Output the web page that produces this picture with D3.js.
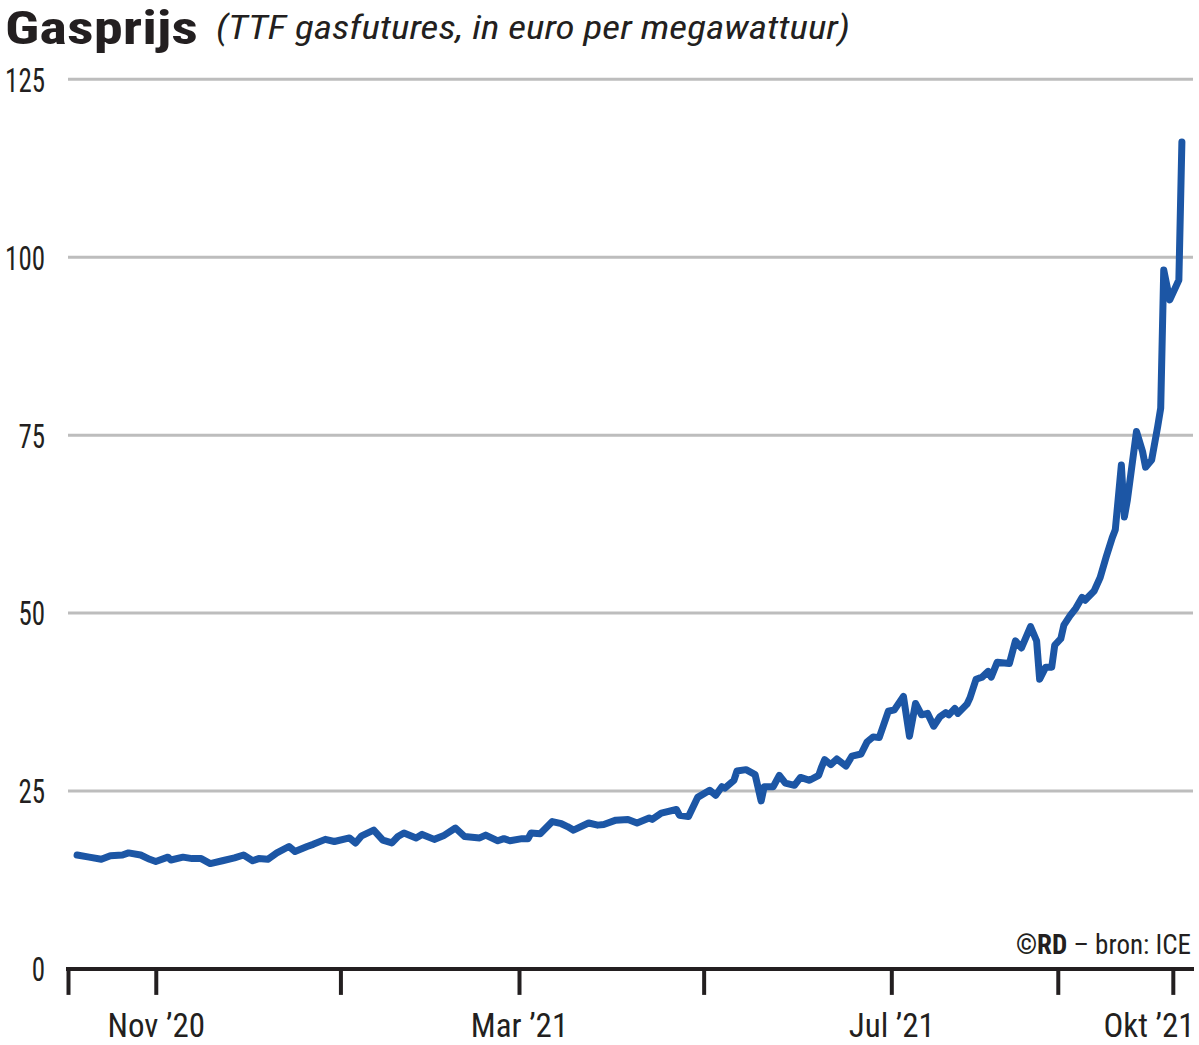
<!DOCTYPE html>
<html>
<head>
<meta charset="utf-8">
<script src="https://cdn.jsdelivr.net/npm/d3@7"></script>
<style>
  html, body { margin: 0; padding: 0; background: #fff; }
  svg { display: block; }
  .cond { font-family: "Liberation Sans Narrow", "Roboto Condensed", "DejaVu Sans Condensed", "Liberation Sans", sans-serif; }
</style>
</head>
<body>
<svg id="chart" width="1199" height="1045"></svg>
<script>
// ---- data ----
const dates = [
  "2020-10-04","2020-10-08","2020-10-12","2020-10-15","2020-10-19","2020-10-21","2020-10-25","2020-10-28","2020-10-30",
  "2020-11-03","2020-11-04","2020-11-08","2020-11-11","2020-11-14","2020-11-17","2020-11-21","2020-11-25","2020-11-28",
  "2020-12-01","2020-12-03","2020-12-06","2020-12-09","2020-12-13","2020-12-15","2020-12-19","2020-12-21","2020-12-25","2020-12-28",
  "2021-01-02","2021-01-04","2021-01-06","2021-01-10","2021-01-13","2021-01-16","2021-01-18","2021-01-20","2021-01-24","2021-01-26","2021-01-30",
  "2021-02-02","2021-02-06","2021-02-09","2021-02-14","2021-02-16","2021-02-20","2021-02-22","2021-02-24","2021-02-28",
  "2021-03-02","2021-03-03","2021-03-06","2021-03-10","2021-03-13","2021-03-15","2021-03-17","2021-03-22","2021-03-25","2021-03-27","2021-03-31",
  "2021-04-04","2021-04-07","2021-04-11","2021-04-12","2021-04-15","2021-04-20","2021-04-21","2021-04-24","2021-04-27",
  "2021-05-01","2021-05-03","2021-05-05","2021-05-06","2021-05-09","2021-05-10","2021-05-13","2021-05-16","2021-05-18","2021-05-19","2021-05-22","2021-05-24","2021-05-26","2021-05-29","2021-05-31",
  "2021-06-03","2021-06-06","2021-06-07","2021-06-08","2021-06-10","2021-06-12","2021-06-15","2021-06-17","2021-06-20","2021-06-22","2021-06-24","2021-06-26","2021-06-29",
  "2021-07-01","2021-07-04","2021-07-06","2021-07-08","2021-07-10","2021-07-12","2021-07-14","2021-07-16","2021-07-18","2021-07-19","2021-07-21","2021-07-22","2021-07-25","2021-07-26","2021-07-28","2021-07-30",
  "2021-08-01","2021-08-02","2021-08-04","2021-08-08","2021-08-10","2021-08-12","2021-08-15","2021-08-17","2021-08-18","2021-08-20","2021-08-22","2021-08-23","2021-08-25","2021-08-26","2021-08-28","2021-08-30",
  "2021-09-01","2021-09-02","2021-09-05","2021-09-07","2021-09-09","2021-09-11","2021-09-12","2021-09-14","2021-09-15","2021-09-16","2021-09-19","2021-09-21","2021-09-22","2021-09-24","2021-09-26","2021-09-27","2021-09-28","2021-09-30",
  "2021-10-03","2021-10-04"
];
const values = [
  16.0,15.7,15.4,15.9,16.0,16.3,16.0,15.4,15.1,
  15.7,15.3,15.7,15.5,15.5,14.8,15.2,15.6,16.0,
  15.2,15.5,15.4,16.3,17.2,16.5,17.2,17.5,18.2,17.9,
  18.4,17.7,18.7,19.5,18.1,17.7,18.6,19.1,18.4,18.9,18.2,
  18.7,19.8,18.6,18.4,18.8,18.0,18.3,18.0,18.3,
  18.3,19.1,19.0,20.7,20.4,20.0,19.5,20.5,20.2,20.3,20.9,
  21.0,20.5,21.2,21.0,21.9,22.4,21.6,21.4,24.1,
  25.1,24.4,25.6,25.4,26.5,27.8,28.0,27.3,23.6,25.6,25.6,27.2,26.1,25.8,26.9,
  26.5,27.2,28.4,29.4,28.7,29.5,28.5,29.9,30.2,31.9,32.6,32.5,36.2,
  36.4,38.3,32.7,37.3,35.7,35.9,34.1,35.4,36.0,35.7,36.6,35.9,37.2,38.1,40.7,41.0,
  41.8,41.0,43.1,42.9,46.1,45.1,48.1,46.1,40.7,42.4,42.4,45.5,46.4,48.3,49.6,50.7,
  52.2,51.8,53.1,55.0,57.9,60.6,61.7,70.8,63.5,65.9,75.5,72.7,70.5,71.5,76.2,78.8,98.2,94.0,
  96.8,116.2
];
const xTickDates = ["2020-10-01","2020-10-30","2020-12-30","2021-02-27","2021-04-29","2021-06-30","2021-08-24","2021-10-01"];
const xTickLabels = ["", "Nov \u201920", "", "Mar \u201921", "", "Jul \u201921", "", "Okt \u201921"];
const yTicks = [0, 25, 50, 75, 100, 125];
const titleText = "Gasprijs";
const subtitleText = "(TTF gasfutures, in euro per megawattuur)";

// ---- drawing ----
const parse = d3.utcParse("%Y-%m-%d");
const data = dates.map((d, i) => ({ date: parse(d), value: values[i] }));

const svg = d3.select("#chart");
svg.append("rect").attr("width", 1199).attr("height", 1045).attr("fill", "#fff");

const x = d3.scaleUtc()
  .domain([parse("2020-10-01"), parse("2021-10-08")])
  .range([68, 1194]);
const y = d3.scaleLinear().domain([0, 125]).range([968.9, 79.3]);

const ink = "#231f20";

// gridlines
svg.append("g").selectAll("line")
  .data(yTicks.filter(v => v > 0))
  .join("line")
  .attr("x1", 68).attr("x2", 1193)
  .attr("y1", d => y(d)).attr("y2", d => y(d))
  .attr("stroke", "#bdbdbd").attr("stroke-width", 3);

// y labels
const yAxis = svg.append("g").attr("transform", "translate(45,0)")
  .call(d3.axisLeft(y).tickValues(yTicks).tickSize(0).tickPadding(0).tickFormat(d3.format("d")));
yAxis.select(".domain").remove();
yAxis.selectAll("text")
  .attr("class", "cond")
  .attr("font-size", 33)
  .attr("fill", ink)
  .attr("dy", "0.36em")
  .attr("textLength", d => String(d).length * 13.3)
  .attr("lengthAdjust", "spacingAndGlyphs");

// line
svg.append("path")
  .datum(data)
  .attr("fill", "none")
  .attr("stroke", "#1c56a5")
  .attr("stroke-width", 7)
  .attr("stroke-linejoin", "round")
  .attr("stroke-linecap", "round")
  .attr("d", d3.line().x(d => x(d.date)).y(d => y(d.value)));

// x axis
const xAxis = svg.append("g").attr("transform", `translate(0,${y(0)})`)
  .call(d3.axisBottom(x)
    .tickValues(xTickDates.map(parse))
    .tickFormat((d, i) => xTickLabels[i])
    .tickSize(26).tickSizeOuter(0).tickPadding(0));
xAxis.select(".domain")
  .attr("stroke", ink).attr("stroke-width", 4)
  .attr("d", `M${x.range()[0] - 2},0H${x.range()[1]}`);
xAxis.selectAll(".tick line").attr("stroke", ink).attr("stroke-width", 4);
xAxis.selectAll(".tick text")
  .attr("class", "cond")
  .attr("font-size", 33)
  .attr("fill", ink)
  .attr("y", 68).attr("dy", 0)
  .attr("text-anchor", (d, i) => i === xTickLabels.length - 1 ? "end" : "middle")
  .attr("dx", (d, i) => i === xTickLabels.length - 1 ? x.range()[1] - x(d) : 0);

// title
svg.append("text")
  .attr("class", "cond")
  .attr("x", 5).attr("y", 44)
  .attr("font-size", 46).attr("font-weight", "bold")
  .attr("fill", ink)
  .attr("textLength", 193).attr("lengthAdjust", "spacingAndGlyphs")
  .text(titleText);
svg.append("text")
  .attr("class", "cond")
  .attr("x", 216).attr("y", 39)
  .attr("font-size", 34).attr("font-style", "italic")
  .attr("fill", ink)
  .attr("textLength", 634).attr("lengthAdjust", "spacingAndGlyphs")
  .text(subtitleText);

// credit
const credit = svg.append("text")
  .attr("class", "cond")
  .attr("x", 1191).attr("y", 954)
  .attr("text-anchor", "end")
  .attr("font-size", 27)
  .attr("fill", ink);
credit.append("tspan").attr("font-weight", "bold").text("\u00A9RD");
credit.append("tspan").text(" \u2013 bron: ICE");
</script>
</body>
</html>
